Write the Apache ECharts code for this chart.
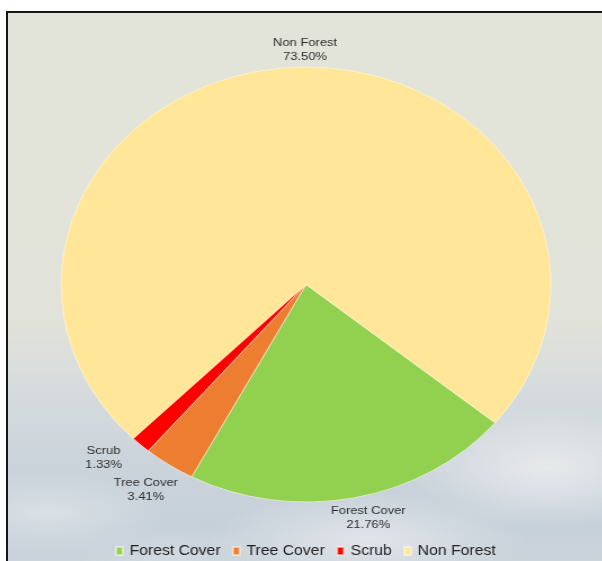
<!DOCTYPE html>
<html>
<head>
<meta charset="utf-8">
<script src="https://cdn.jsdelivr.net/npm/echarts@6/dist/echarts.min.js"></script>
<style>
  html, body { margin: 0; padding: 0; background: #ffffff; overflow: hidden; width: 602px; height: 561px; }
  #frame {
    position: absolute; left: 6px; top: 11px; width: 600px; height: 560px;
    border-left: 2px solid #161616; border-top: 2px solid #161616;
    overflow: hidden;
    background:
      radial-gradient(ellipse 140px 60px at 540px 455px, rgba(236,238,240,0.85), rgba(236,238,240,0) 100%),
      radial-gradient(ellipse 160px 45px at 360px 525px, rgba(232,235,238,0.75), rgba(232,235,238,0) 100%),
      radial-gradient(ellipse 120px 40px at 40px 500px, rgba(225,230,234,0.7), rgba(225,230,234,0) 100%),
      radial-gradient(ellipse 90px 35px at 160px 545px, rgba(210,218,226,0.8), rgba(210,218,226,0) 100%),
      linear-gradient(to bottom, #e3e4d9 0%, #e1e2d9 55%, #d5dbdd 68%, #cbd4db 80%, #c6d0d9 92%, #cdd5dc 100%);
  }
  #chart {
    position: absolute; left: 0; top: 0; width: 528px; height: 548px;
    transform: scaleX(1.126); transform-origin: 0 0;
  }
</style>
</head>
<body>
<div id="frame"><div id="chart"></div></div>
<script>
  // Land cover shares (percent)
  const categories = ['Forest Cover', 'Tree Cover', 'Scrub', 'Non Forest'];
  const shares = [21.76, 3.41, 1.33, 73.50];
  const colors = ['#92d050', '#ed7d31', '#ff0000', '#ffe699'];

  // Pie geometry
  const pieCenter = [264.7, 271.5];
  const pieRadius = 217.5;
  const startAngle = 320.5;

  // Label offsets from each slice's outer arc midpoint
  const labelNudge = [[12.5, 20.2], [-20.8, 24.6], [-32.9, 12.7], [9.7, -17.6]];

  const total = shares.reduce((a, b) => a + b, 0);
  function arcMidPoint(i) {
    let before = 0;
    for (let k = 0; k < i; k++) before += shares[k];
    const mid = (startAngle - 360 * (before + shares[i] / 2) / total) * Math.PI / 180;
    return [pieCenter[0] + pieRadius * Math.cos(mid), pieCenter[1] - pieRadius * Math.sin(mid)];
  }

  const chart = echarts.init(document.getElementById('chart'), null, { renderer: 'canvas' });
  chart.setOption({
    animation: false,
    backgroundColor: 'transparent',
    color: colors,
    legend: {
      data: categories,
      left: 'center',
      top: 526,
      icon: 'rect',
      itemWidth: 6,
      itemHeight: 8,
      itemGap: 10,
      textStyle: {
        fontFamily: 'Liberation Sans, Arial, sans-serif',
        fontSize: 14,
        color: '#222222',
        padding: [0, 0, 0, 1]
      }
    },
    series: [{
      type: 'pie',
      center: pieCenter,
      radius: pieRadius,
      startAngle: startAngle,
      clockwise: true,
      avoidLabelOverlap: false,
      itemStyle: { borderColor: 'rgba(255,250,230,0.55)', borderWidth: 1 },
      label: {
        show: true,
        position: 'outside',
        fontFamily: 'Liberation Sans, Arial, sans-serif',
        fontSize: 11.5,
        lineHeight: 14,
        color: '#2e2e2e',
        align: 'center',
        formatter: p => p.name + '\n' + shares[p.dataIndex].toFixed(2) + '%'
      },
      labelLine: { show: false },
      labelLayout: function (params) {
        const i = params.dataIndex;
        const p = arcMidPoint(i);
        return {
          x: p[0] + labelNudge[i][0],
          y: p[1] + labelNudge[i][1],
          align: 'center',
          verticalAlign: 'middle'
        };
      },
      emphasis: { disabled: true },
      data: categories.map((name, i) => ({ name: name, value: shares[i] }))
    }]
  });
</script>
</body>
</html>
